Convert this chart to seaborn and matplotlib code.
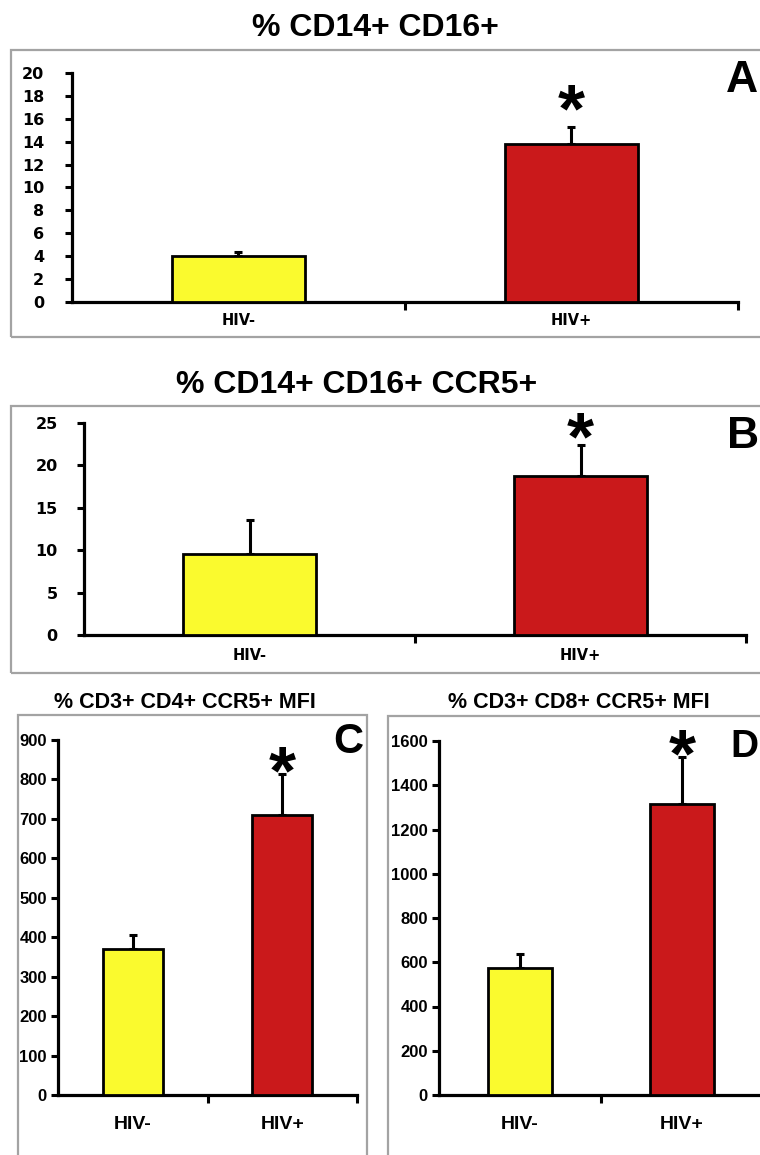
# Monocyte / T cell CCR5 panels, HIV- vs HIV+
import numpy as np
import pandas as pd
import matplotlib
matplotlib.use("Agg")
import matplotlib.pyplot as plt
from matplotlib.patches import Rectangle
import seaborn as sns

# ---- data ----
groups = ["HIV-", "HIV+"]

cd16_mean = [4.0, 13.8]
cd16_sem = [0.4, 1.5]

ccr5_mono_mean = [9.6, 18.8]
ccr5_mono_sem = [4.0, 3.6]

cd4_mfi_mean = [370, 709]
cd4_mfi_sem = [35, 105]

cd8_mfi_mean = [574, 1315]
cd8_mfi_sem = [63, 212]

bar_colors = ["#FAFA2E", "#CA191B"]

# ---- style ----
sns.set_style("white")
plt.rcParams["font.family"] = ["Liberation Sans", "DejaVu Sans"]
plt.rcParams["text.color"] = "black"
plt.rcParams["xtick.color"] = "black"
plt.rcParams["ytick.color"] = "black"

W, H = 760, 1155
fig = plt.figure(figsize=(W / 100, H / 100), dpi=100)


def px_axes(x0, x1, y_top, y_bot):
    # pixel box -> figure fraction
    return [x0 / W, 1 - y_bot / H, (x1 - x0) / W, (y_bot - y_top) / H]


def frame(x0, y0, x1, y1):
    fig.patches.append(Rectangle((x0 / W, 1 - y1 / H), (x1 - x0) / W, (y1 - y0) / H,
                                 transform=fig.transFigure, fill=False,
                                 edgecolor="#a3a3a3", linewidth=1.6, zorder=0))


def fig_text(x, y, s, **kw):
    fig.text(x / W, 1 - y / H, s, **kw)


STAR = 50


def panel(rect, means, sems, ymax, ystep, star_y, tick_font, tick_size, tick_pad,
          lab_font, lab_size, lab_pad):
    ax = fig.add_axes(rect)
    df = pd.DataFrame({"group": groups, "value": means})
    sns.barplot(data=df, x="group", y="value", hue="group", palette=bar_colors,
                saturation=1, legend=False, width=0.4, edgecolor="black",
                linewidth=2, errorbar=None, ax=ax, zorder=3)
    ax.errorbar(x=[0, 1], y=means, yerr=[np.zeros(len(sems)), sems], fmt="none",
                ecolor="black", elinewidth=2.2, capsize=3, capthick=2.2, zorder=2)
    ax.set_xlim(-0.5, 1.5)
    ax.set_ylim(0, ymax)
    ax.set_yticks(np.arange(0, ymax + ystep / 2, ystep))
    ax.set_xticks([0, 1])
    ax.set_xticks([0.5, 1.5], minor=True)
    ax.set_xlabel("")
    ax.set_ylabel("")
    ax.patch.set_alpha(0)
    for s in ["top", "right"]:
        ax.spines[s].set_visible(False)
    for s in ["left", "bottom"]:
        ax.spines[s].set_linewidth(2.3)
        ax.spines[s].set_color("black")
    ax.tick_params(axis="y", direction="out", length=5, width=2.2, pad=tick_pad,
                   left=True)
    ax.tick_params(axis="x", which="major", length=0, pad=lab_pad, bottom=True)
    ax.tick_params(axis="x", which="minor", direction="out", length=6, width=2.2,
                   bottom=True)
    for lbl in ax.get_yticklabels():
        lbl.set_fontfamily(tick_font)
        lbl.set_fontweight("bold")
        lbl.set_fontsize(tick_size)
    for lbl in ax.get_xticklabels():
        lbl.set_fontfamily(lab_font)
        lbl.set_fontweight("bold")
        lbl.set_fontsize(lab_size)
    ax.annotate("*", (1, star_y), xytext=(0, -0.58 * STAR), textcoords="offset points",
                ha="center", va="baseline", fontsize=STAR, fontweight="bold",
                annotation_clip=False)
    ax.grid(False)
    return ax


wide = ["DejaVu Sans"]
narrow = ["Liberation Sans Narrow", "Liberation Sans"]

# ---- frames ----
frame(11, 50, 790, 337)
frame(11, 406, 790, 673)
frame(18, 715, 367, 1200)
frame(388, 716, 790, 1200)

# ---- panels ----
panel(px_axes(72, 738, 73, 302), cd16_mean, cd16_sem, 20, 2, 18.4,
      wide, 11.5, 15, wide, 10.5, 8)
panel(px_axes(84, 746, 423, 635), ccr5_mono_mean, ccr5_mono_sem, 25, 5, 25.4,
      wide, 11.5, 14, wide, 10.5, 9)
panel(px_axes(58, 357, 740, 1095), cd4_mfi_mean, cd4_mfi_sem, 900, 100, 866,
      narrow, 12, 3, narrow, 14, 15)
panel(px_axes(439, 763, 741, 1095), cd8_mfi_mean, cd8_mfi_sem, 1600, 200, 1620,
      narrow, 12, 3, narrow, 14, 15)

# ---- titles and panel letters ----
fig_text(375, 36, "% CD14+ CD16+", ha="center", va="baseline", fontsize=23,
         fontweight="bold")
fig_text(357, 393, "% CD14+ CD16+ CCR5+", ha="center", va="baseline", fontsize=23,
         fontweight="bold")
fig_text(185, 708, "% CD3+ CD4+ CCR5+ MFI", ha="center", va="baseline",
         fontsize=15.5, fontweight="bold")
fig_text(579, 708, "% CD3+ CD8+ CCR5+ MFI", ha="center", va="baseline",
         fontsize=15.5, fontweight="bold")

fig_text(726, 92, "A", ha="left", va="baseline", fontsize=32, fontweight="bold")
fig_text(727, 448, "B", ha="left", va="baseline", fontsize=32, fontweight="bold")
fig_text(333, 753, "C", ha="left", va="baseline", fontsize=30, fontweight="bold")
fig_text(730, 757, "D", ha="left", va="baseline", fontsize=28, fontweight="bold")

fig.savefig("out.png", dpi=100, facecolor="white")
